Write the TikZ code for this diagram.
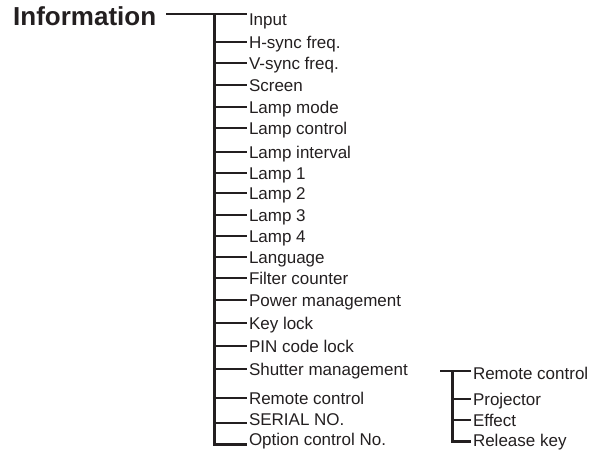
\documentclass[tikz,border=0pt]{standalone}
\usepackage{fontspec}
\setmainfont{Liberation Sans}
\definecolor{ink}{RGB}{35,31,32}

\begin{document}
\begin{tikzpicture}
[
	x=1pt,y=-1pt,
	trunk/.style={ink,line width=3pt,line join=miter},
	branch/.style={ink,line width=2.5pt},
	item/.style={anchor=west,inner sep=0pt,outer sep=2pt,text height=12pt,text depth=0pt,text=ink,font=\fontsize{17}{20}\selectfont},
	title/.style={anchor=west,inner sep=0pt,text height=18.6pt,text depth=0pt,text=ink,font=\bfseries\fontsize{26}{30}\selectfont}
]

	\useasboundingbox (0,0) rectangle (593,450);

	% main menu
	\node[title] (info) at (13,16.5) {Information};
	\coordinate (top) at (214,14);

	\foreach \y/\txt [count=\i] in {19/Input, 42/H-sync freq., 63/V-sync freq., 85/Screen, 107/Lamp mode, 128/Lamp control, 152/Lamp interval, 173/Lamp 1, 193/Lamp 2, 215/Lamp 3, 236/Lamp 4, 257/Language, 278/Filter counter, 300/Power management, 323/Key lock, 346/PIN code lock, 369/Shutter management, 398/Remote control, 419/SERIAL NO., 439/Option control No.}
		\node[item] (m\i) at (247,\y) {\txt};

	\draw[branch] ([xshift=10pt]info.east |- top) -- (m1.west |- top);
	\draw[trunk] (top) |- ([yshift=-5pt]m20.west);
	\foreach \i in {2,...,18}
		\draw[branch] (top |- m\i.west) -- (m\i.west);
	\draw[branch] ([yshift=-4pt]top |- m19.west) -- ([yshift=-4pt]m19.west);

	% shutter sub menu
	\coordinate (subleft) at (440,371);
	\coordinate (subtop) at (452,371);

	\foreach \y/\txt [count=\i] in {373/Remote control, 399/Projector, 420/Effect, 440/Release key}
		\node[item] (s\i) at (471,\y) {\txt};

	\draw[branch] (subleft) -- (s1.west |- subtop);
	\draw[trunk] (subtop) |- ([yshift=-1pt]s4.west);
	\foreach \i in {2,3}
		\draw[branch] (subtop |- s\i.west) -- (s\i.west);

\end{tikzpicture}
\end{document}
